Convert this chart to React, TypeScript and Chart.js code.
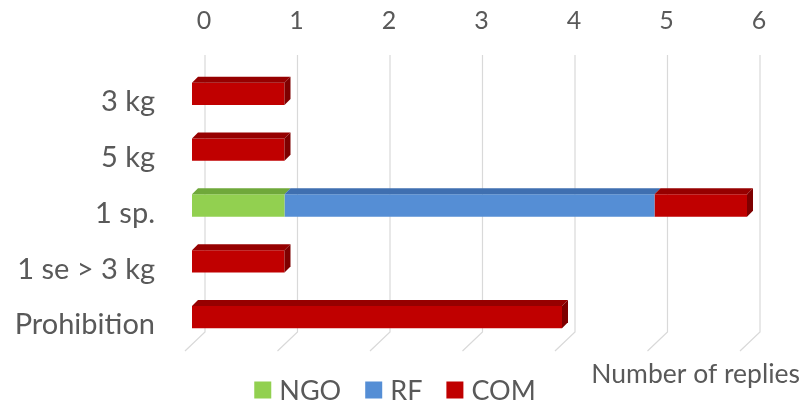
import React, { useEffect, useRef } from "react";
import { Chart, registerables } from "chart.js";

Chart.register(...registerables);

const categories = ["3 kg", "5 kg", "1 sp.", "1 se > 3 kg", "Prohibition"];
const ngoValues = [0, 0, 1, 0, 0];
const rfValues = [0, 0, 4, 0, 0];
const comValues = [1, 1, 1, 1, 4];
const seriesNames = ["NGO", "RF", "COM"];
const axisTitle = "Number of replies";
const xMin = 0;
const xMax = 6;

const FONT = "Lato, 'Open Sans', sans-serif";
const TEXT = "#595959";
const FRONT = ["#92D050", "#558ED5", "#C00000"];
const TOP = ["#6FA83A", "#3F6FB0", "#960000"];
const SIDE = ["#5E9430", "#34609E", "#7E0000"];

const DEPTH = 6;
const GRID_SHIFT = 13;

const depthPlugin = {
  id: "depth",
  beforeDatasetsDraw(chart: any) {
    const ctx = chart.ctx;
    const xs = chart.scales.x;
    const area = chart.chartArea;
    ctx.save();
    ctx.strokeStyle = "#D9D9D9";
    ctx.lineWidth = 1.2;
    for (let v = xMin; v <= xMax; v++) {
      const x = xs.getPixelForValue(v) + GRID_SHIFT;
      ctx.beginPath();
      ctx.moveTo(x, area.top - 11);
      ctx.lineTo(x, area.bottom - 13);
      ctx.lineTo(x - 20, area.bottom + 6);
      ctx.stroke();
    }
    ctx.restore();
  },
  afterDatasetsDraw(chart: any) {
    const ctx = chart.ctx;
    const n = chart.data.labels.length;
    ctx.save();
    for (let i = 0; i < n; i++) {
      let last = -1;
      chart.data.datasets.forEach((ds: any, d: number) => {
        if (ds.data[i] > 0) last = d;
      });
      chart.data.datasets.forEach((ds: any, d: number) => {
        if (!(ds.data[i] > 0)) return;
        const el = chart.getDatasetMeta(d).data[i];
        const p = el.getProps(["x", "y", "base", "height"], true);
        const top = p.y - p.height / 2;
        const bottom = p.y + p.height / 2;
        const left = Math.min(p.base, p.x);
        const right = Math.max(p.base, p.x);
        ctx.fillStyle = TOP[d];
        ctx.beginPath();
        ctx.moveTo(left, top);
        ctx.lineTo(right, top);
        ctx.lineTo(right + DEPTH, top - DEPTH);
        ctx.lineTo(left + DEPTH, top - DEPTH);
        ctx.closePath();
        ctx.fill();
        if (d === last) {
          ctx.fillStyle = SIDE[d];
          ctx.beginPath();
          ctx.moveTo(right, top);
          ctx.lineTo(right + DEPTH, top - DEPTH);
          ctx.lineTo(right + DEPTH, bottom - DEPTH);
          ctx.lineTo(right, bottom);
          ctx.closePath();
          ctx.fill();
        }
      });
    }
    ctx.restore();
  },
  afterDraw(chart: any) {
    const ctx = chart.ctx;
    ctx.save();
    ctx.fillStyle = TEXT;
    ctx.textBaseline = "middle";
    // axis title
    ctx.font = `26.5px ${FONT}`;
    ctx.textAlign = "right";
    ctx.fillText(axisTitle, 800, 374);
    // legend
    ctx.font = `27px ${FONT}`;
    ctx.textAlign = "left";
    const box = 17;
    const gapText = 8;
    const gapItem = 24;
    const items = chart.data.datasets.map((ds: any) => ({
      label: ds.label,
      color: ds.backgroundColor,
      w: box + gapText + ctx.measureText(ds.label).width,
    }));
    const total = items.reduce((s: number, it: any) => s + it.w, 0) + gapItem * (items.length - 1);
    let x = 395 - total / 2;
    const y = 390;
    items.forEach((it: any) => {
      ctx.fillStyle = it.color;
      ctx.fillRect(x, y - box / 2, box, box);
      ctx.fillStyle = TEXT;
      ctx.fillText(it.label, x + box + gapText, y + 1);
      x += it.w + gapItem;
    });
    ctx.restore();
  },
};

export default function App() {
  const ref = useRef<HTMLCanvasElement>(null);
  useEffect(() => {
    if (!ref.current) return;
    const valueSets = [ngoValues, rfValues, comValues];
    const chart = new Chart(ref.current, {
      type: "bar",
      data: {
        labels: categories,
        datasets: seriesNames.map((name, i) => ({
          label: name,
          data: valueSets[i],
          backgroundColor: FRONT[i],
          borderWidth: 0,
          barPercentage: 0.4,
          categoryPercentage: 1,
        })),
      },
      options: {
        indexAxis: "y",
        animation: false,
        responsive: false,
        maintainAspectRatio: false,
        layout: { padding: { left: 0, right: 58, top: 0, bottom: 61 } },
        plugins: { legend: { display: false }, tooltip: { enabled: false } },
        scales: {
          x: {
            position: "top",
            stacked: true,
            min: xMin,
            max: xMax,
            grid: { display: false, drawTicks: false },
            border: { display: false },
            ticks: {
              stepSize: 1,
              labelOffset: GRID_SHIFT - 1,
              padding: 30,
              color: TEXT,
              font: { family: FONT, size: 25 },
            },
            afterFit(scale: any) {
              scale.height = 66;
            },
          },
          y: {
            stacked: true,
            grid: { display: false, drawTicks: false },
            border: { display: false },
            ticks: {
              labelOffset: 8,
              padding: 37,
              color: TEXT,
              font: { family: FONT, size: 29 },
            },
            afterFit(scale: any) {
              scale.width = 192;
            },
          },
        },
      },
      plugins: [depthPlugin],
    });
    return () => chart.destroy();
  }, []);
  return (
    <div style={{ position: "fixed", left: 0, top: 0, width: 805, height: 406, background: "#fff" }}>
      <canvas ref={ref} width={805} height={406} style={{ width: 805, height: 406, display: "block" }} />
    </div>
  );
}
